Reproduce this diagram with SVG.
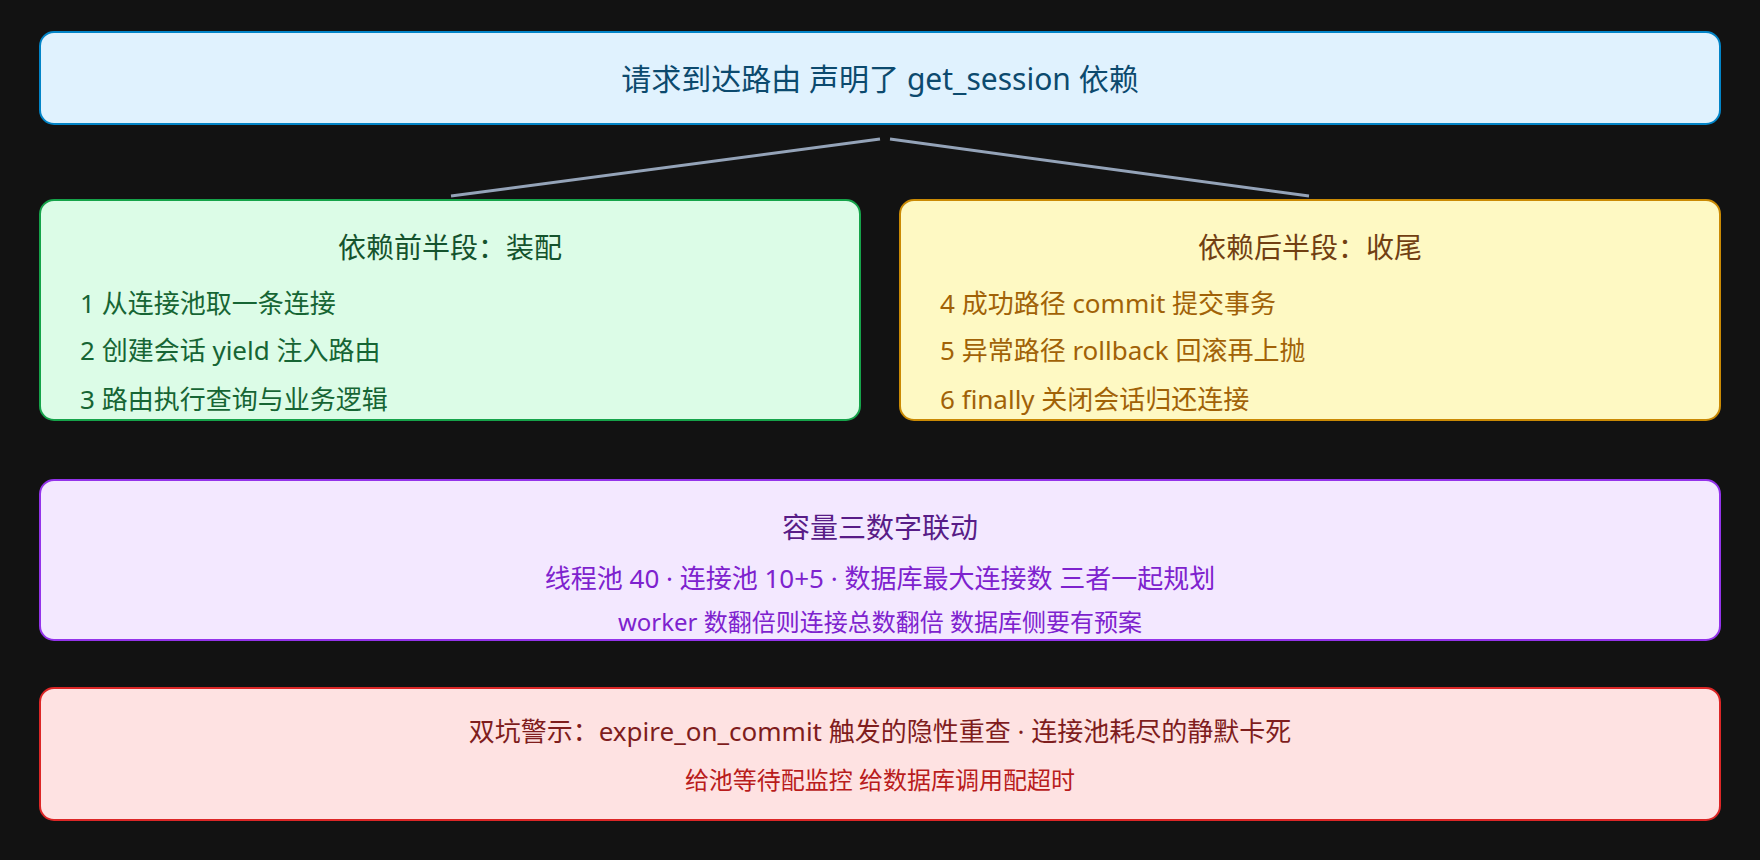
<svg xmlns="http://www.w3.org/2000/svg" width="1760" height="860" viewBox="0 0 1760 860">
<style>
text{font-family:"Noto Sans","Noto Sans CJK SC",sans-serif;dominant-baseline:central}
.box{stroke-width:2}
.t{font-size:28px;text-anchor:middle}
.i{font-size:26px}
.s{font-size:26px;text-anchor:middle}
.xs{font-size:24px;text-anchor:middle}
.conn line{stroke:#94a3b8;stroke-width:3}
</style>
<rect width="1760" height="860" fill="#121212"/>
<g class="conn" id="connectors">
<line x1="880" y1="139" x2="451" y2="196"/>
<line x1="890" y1="139" x2="1309" y2="196"/>
</g>
<g id="request">
<rect class="box" x="40" y="32" width="1680" height="92" rx="14" fill="#e0f2fe" stroke="#0284c7"/>
<text class="t" x="880" y="78" fill="#0c4a6e" style="font-size:30px">请求到达路由 声明了 get_session 依赖</text>
</g>
<g id="setup">
<rect class="box" x="40" y="200" width="820" height="220" rx="14" fill="#dcfce7" stroke="#16a34a"/>
<text class="t" x="450" y="247" fill="#14532d">依赖前半段：装配</text>
<text class="i" x="80" y="303" fill="#166534">1 从连接池取一条连接</text>
<text class="i" x="80" y="350" fill="#166534">2 创建会话 yield 注入路由</text>
<text class="i" x="80" y="399" fill="#166534">3 路由执行查询与业务逻辑</text>
</g>
<g id="teardown">
<rect class="box" x="900" y="200" width="820" height="220" rx="14" fill="#fef9c3" stroke="#ca8a04"/>
<text class="t" x="1310" y="247" fill="#713f12">依赖后半段：收尾</text>
<text class="i" x="940" y="303" fill="#a16207">4 成功路径 commit 提交事务</text>
<text class="i" x="940" y="350" fill="#a16207">5 异常路径 rollback 回滚再上抛</text>
<text class="i" x="940" y="399" fill="#a16207">6 finally 关闭会话归还连接</text>
</g>
<g id="capacity">
<rect class="box" x="40" y="480" width="1680" height="160" rx="14" fill="#f3e8ff" stroke="#9333ea"/>
<text class="t" x="880" y="527" fill="#581c87">容量三数字联动</text>
<text class="s" x="880" y="578" fill="#7e22ce">线程池 40 · 连接池 10+5 · 数据库最大连接数 三者一起规划</text>
<text class="xs" x="880" y="621" fill="#7e22ce">worker 数翻倍则连接总数翻倍 数据库侧要有预案</text>
</g>
<g id="warning">
<rect class="box" x="40" y="688" width="1680" height="132" rx="14" fill="#fee2e2" stroke="#dc2626"/>
<text class="t" x="880" y="731" fill="#7f1d1d" style="font-size:26px">双坑警示：expire_on_commit 触发的隐性重查 · 连接池耗尽的静默卡死</text>
<text class="xs" x="880" y="779" fill="#b91c1c">给池等待配监控 给数据库调用配超时</text>
</g>
</svg>
